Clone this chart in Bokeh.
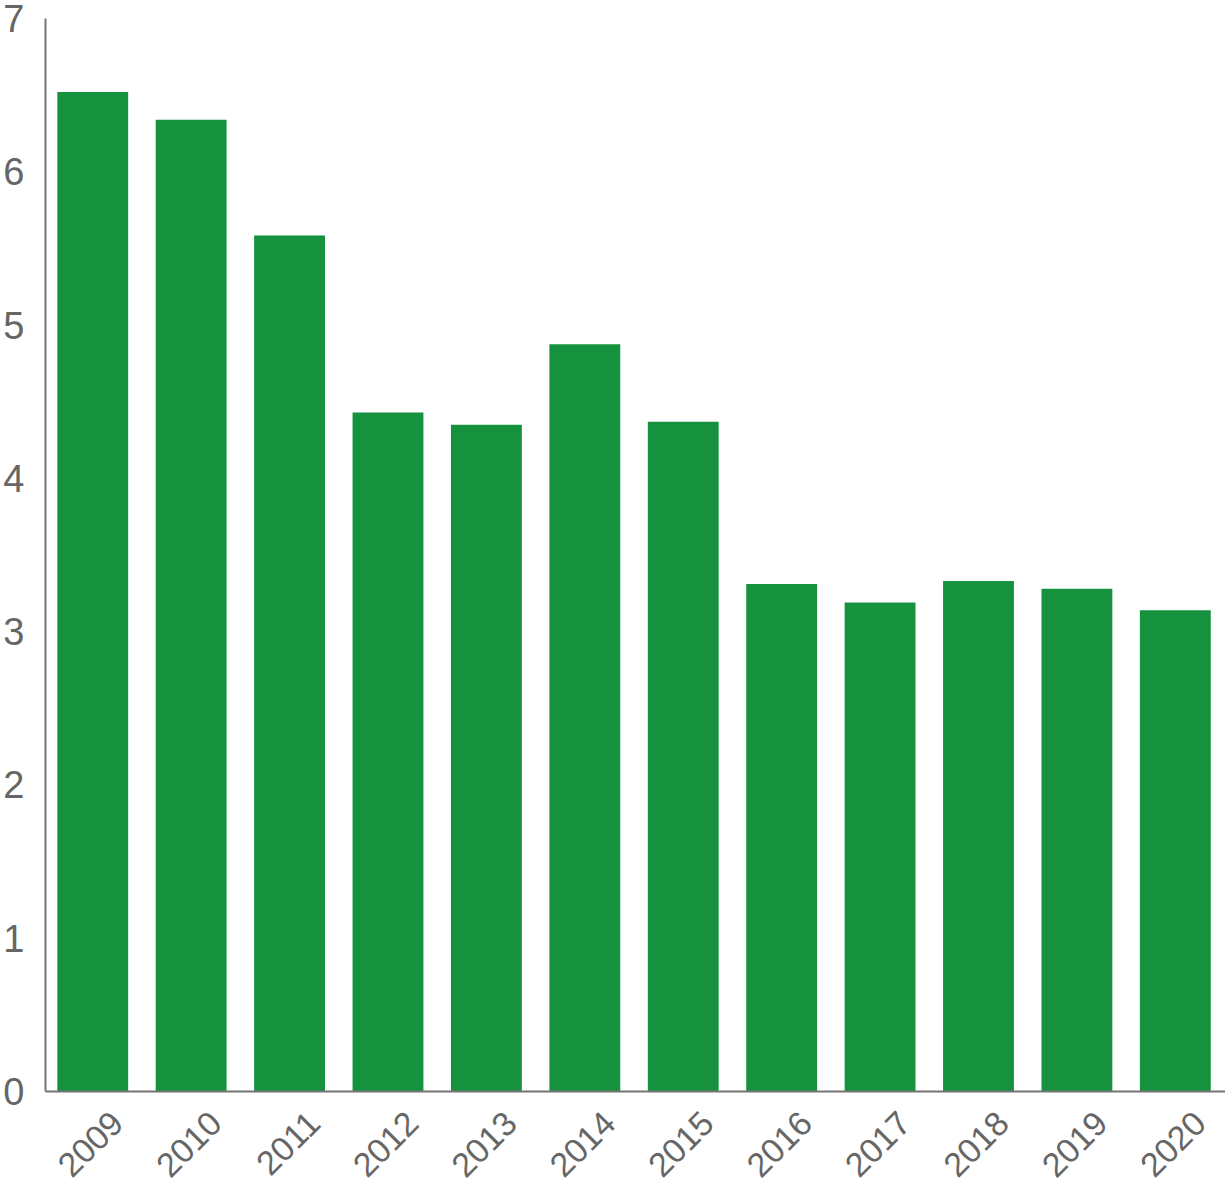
import numpy as np
from bokeh.plotting import figure
from bokeh.models import Range1d, FixedTicker, ColumnDataSource
from bokeh.embed import file_html
from bokeh.resources import INLINE

years = ["2009", "2010", "2011", "2012", "2013", "2014",
         "2015", "2016", "2017", "2018", "2019", "2020"]
values = [6.52, 6.34, 5.585, 4.43, 4.35, 4.875,
          4.37, 3.31, 3.19, 3.33, 3.28, 3.14]
y_ticks = [0, 1, 2, 3, 4, 5, 6, 7]

BAR_W = 0.72
LABEL_SHIFT = 0.25   # year labels sit right of the bar centre
GREEN = "#16923e"
GREY = "#666666"

n = len(years)
idx = np.arange(n)
src = ColumnDataSource(dict(x=idx - LABEL_SHIFT, top=values, year=years))

x_start = -0.5 - LABEL_SHIFT + 0.02
p = figure(output_backend="svg", toolbar_location=None,
           x_range=Range1d(x_start, x_start + n),
           y_range=Range1d(0, 7),
           frame_width=1181, frame_height=1073,
           min_border_left=36, min_border_right=0, min_border_top=18, min_border_bottom=0)

p.vbar(x="x", top="top", width=BAR_W, bottom=0, source=src,
       fill_color=GREEN, line_color=None)

p.outline_line_color = None
p.grid.visible = False
p.background_fill_color = "white"
p.border_fill_color = "white"

for ax in (p.xaxis[0], p.yaxis[0]):
    ax.axis_line_color = "#747474"
    ax.axis_line_width = 2
    ax.major_tick_line_color = None
    ax.minor_tick_line_color = None
    ax.major_label_text_color = GREY
    ax.major_label_text_font = "Liberation Sans"

p.yaxis.ticker = FixedTicker(ticks=y_ticks)
p.yaxis.major_label_text_font_size = "38px"
p.yaxis.major_label_standoff = 15

p.xaxis.ticker = FixedTicker(ticks=[int(i) for i in idx])
p.xaxis.major_label_overrides = {int(i): y for i, y in zip(idx, years)}
p.xaxis.major_label_orientation = np.pi / 4
p.xaxis.major_label_text_font_size = "34px"
p.xaxis.major_label_standoff = 20

open("out.html", "w").write(file_html(p, INLINE))
